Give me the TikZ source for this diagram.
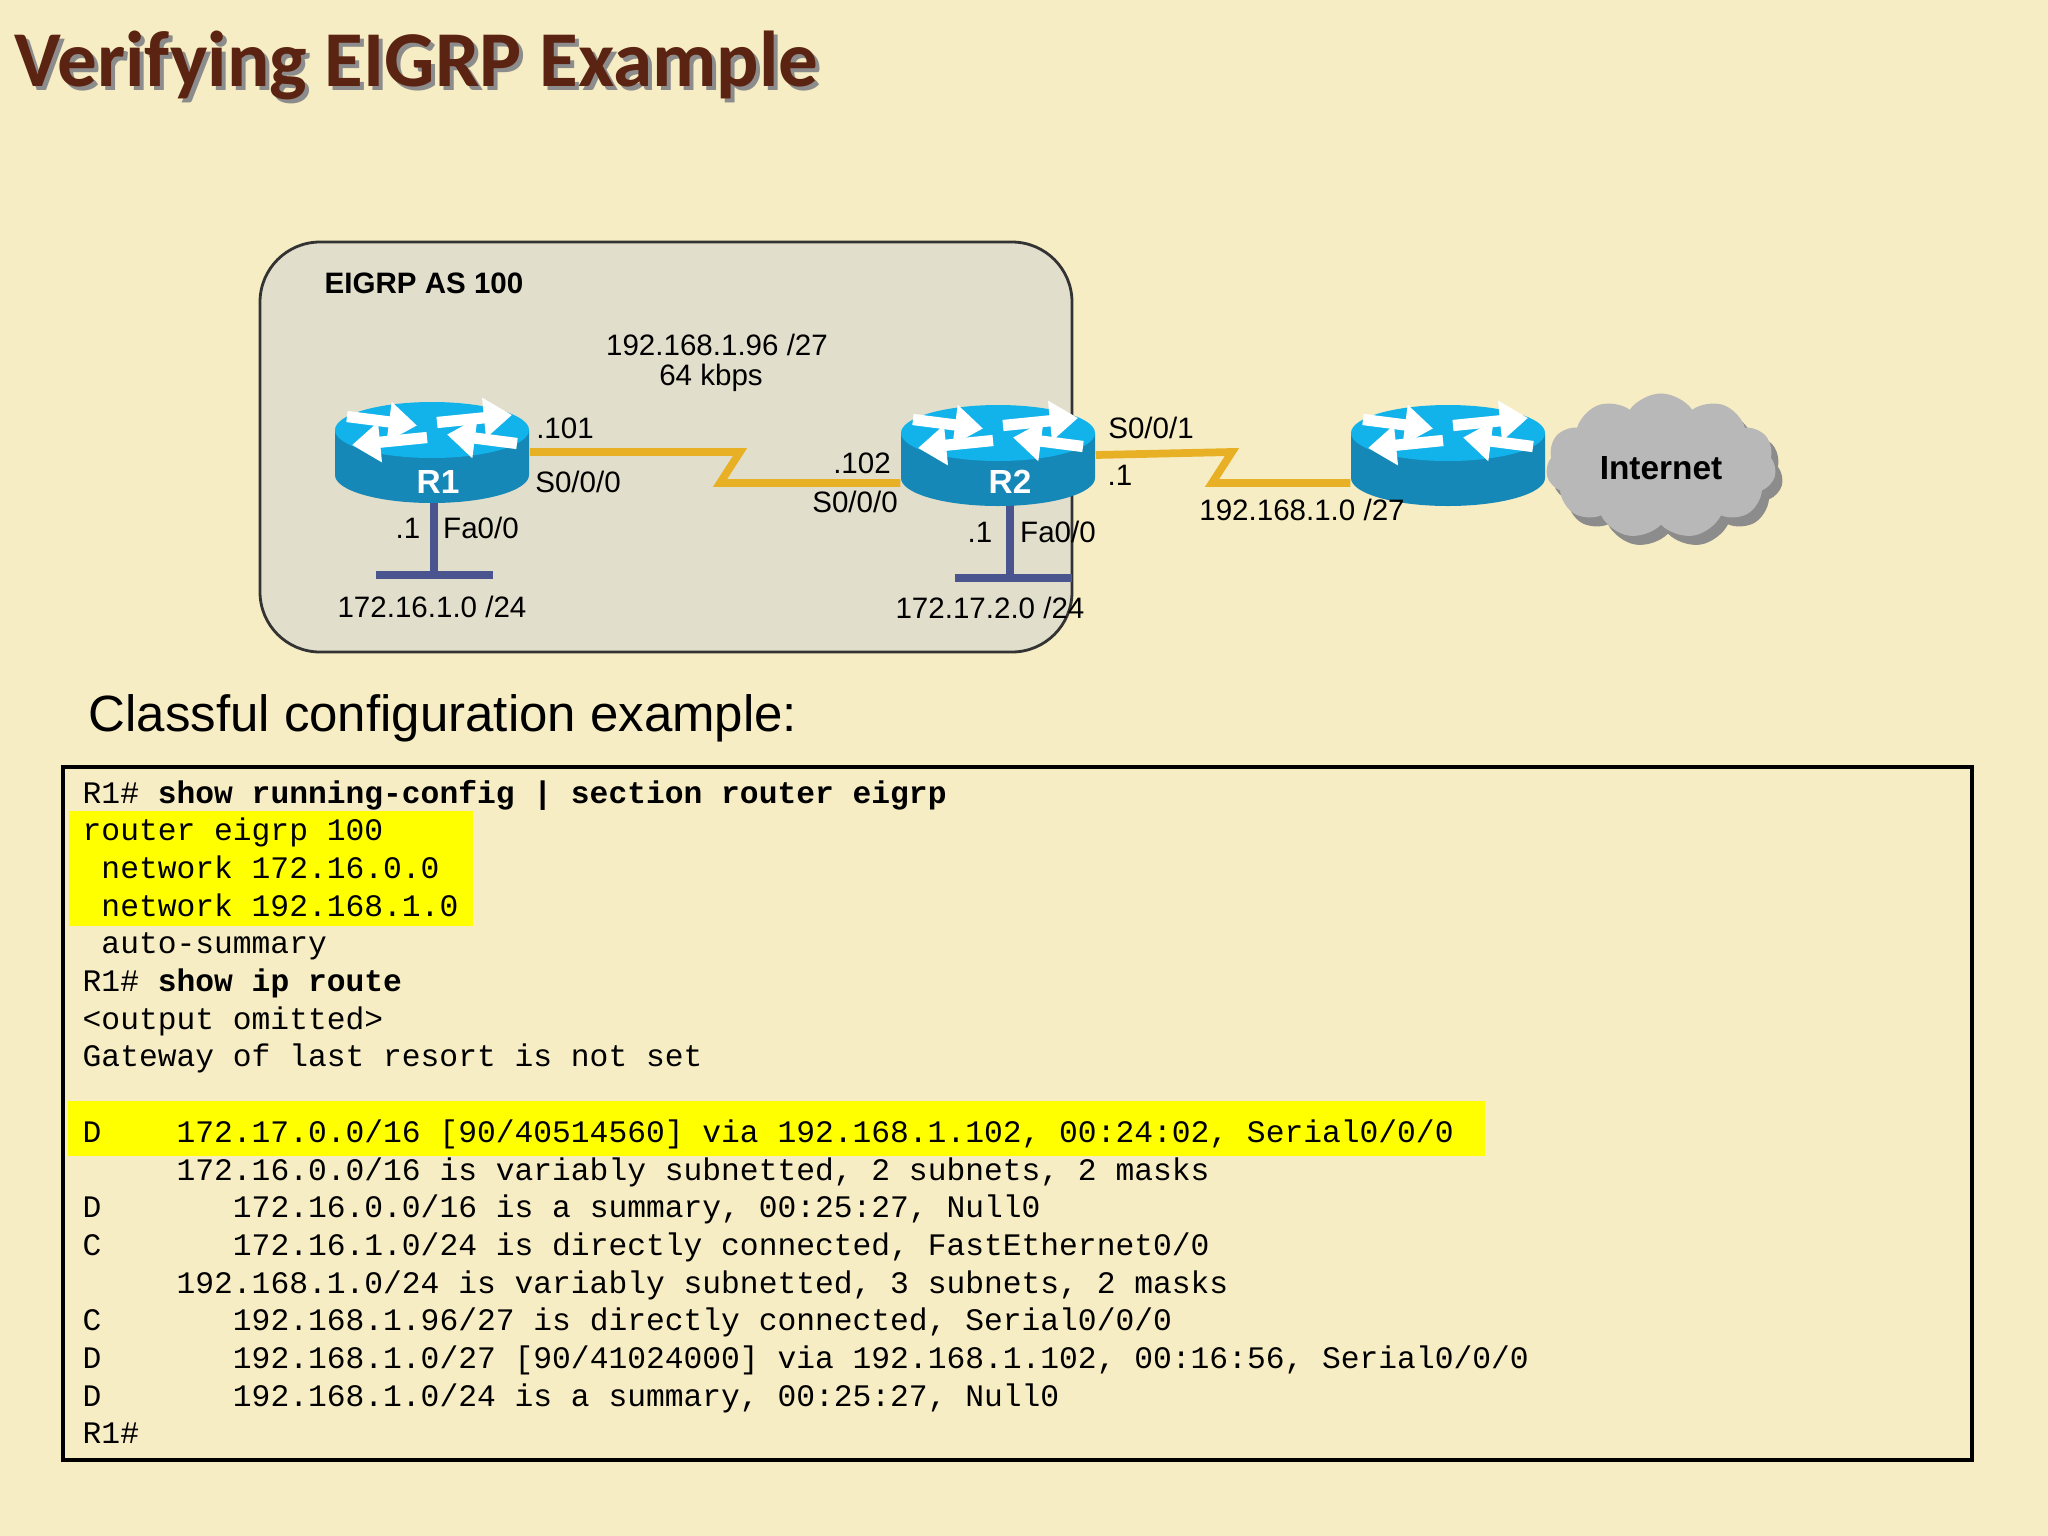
\documentclass[tikz,border=0pt]{standalone}
\usepackage{fontspec}
\setmainfont{Liberation Sans}
\setmonofont{Liberation Mono}
\newfontfamily\titlefont{Carlito}
\usetikzlibrary{shapes.symbols,arrows.meta,calc}
\definecolor{bgc}{HTML}{F7EDC4}
\definecolor{titlec}{HTML}{5B2412}
\definecolor{rtop}{HTML}{12B2EA}
\definecolor{rbody}{HTML}{1688B8}
\definecolor{serialc}{HTML}{E8B024}
\definecolor{ethc}{HTML}{4A5590}
\definecolor{hl}{HTML}{FFFF00}
\tikzset{
 lbl/.style={font=\fontsize{8.4}{10}\selectfont, inner sep=0pt},
 codeline/.style={anchor=base west, inner sep=0pt, font=\fontsize{8.9}{10}\ttfamily},
 serial/.style={serialc, line width=2.2pt},
 eth/.style={ethc, line width=2.2pt},
 rbox/.style={minimum width=1.94cm, minimum height=0.8cm, inner sep=0pt},
 router/.pic={
  \fill[rbody] (-97,0) -- (-97,45) arc[start angle=180,end angle=0,x radius=97,y radius=28] -- (97,0) -- cycle;
  \fill[rtop] (0,0) ellipse[x radius=97,y radius=28];
  \begin{scope}[yscale=0.3, white, line width=3.2pt]
   \draw[-{Triangle[length=8pt,width=11pt]}] (-85,-45) -- (-15,-15);
   \draw[-{Triangle[length=8pt,width=11pt]}] (5,-25) -- (80,-50);
   \draw[-{Triangle[length=8pt,width=11pt]}] (-5,25) -- (-80,50);
   \draw[-{Triangle[length=8pt,width=11pt]}] (85,45) -- (15,15);
  \end{scope}
 }
}
\begin{document}
\begin{tikzpicture}[x=0.01cm,y=-0.01cm]
\fill[bgc] (0,0) rectangle (2048,1536);
\useasboundingbox (0,0) rectangle (2048,1536);
% title
\node[anchor=base west, inner sep=0pt, text=black!45, font=\titlefont\bfseries\fontsize{22.5}{26}\selectfont] at (18,90) {Verifying EIGRP Example};
\node[anchor=base west, inner sep=0pt, text=titlec, font=\titlefont\bfseries\fontsize{22.5}{26}\selectfont] (title) at (14,86) {Verifying EIGRP Example};
% EIGRP area
\draw[fill=black!8!bgc!80!gray!60, draw=black!80, line width=0.8pt, rounded corners=0.6cm] (260,242) rectangle (1072,652);
\node[lbl, font=\fontsize{8.4}{10}\selectfont\bfseries] (as) at (424,283) {EIGRP AS 100};
% ethernet
\node[inner sep=0pt] (lan1) at (434,575) {};
\node[inner sep=0pt] (lan2) at (1010,578) {};
\draw[eth] (376,575) -- (493,575);
\draw[eth] (955,578) -- (1072,578);
\draw[eth] (434,480) -- (lan1);
\draw[eth] (1010,483) -- (lan2);
% routers
\pic at (432,430) {router};
\pic at (998,433) {router};
\pic at (1448,433) {router};
\node[rbox] (r1) at (432,452) {};
\node[rbox] (r2) at (998,455) {};
\node[rbox] (r3) at (1448,455) {};
\node[text=white, font=\fontsize{9.5}{11}\selectfont\bfseries] at (438,482) {R1};
\node[text=white, font=\fontsize{9.5}{11}\selectfont\bfseries] at (1010,482) {R2};
% cloud
\node[cloud, cloud puffs=11, cloud puff arc=110, aspect=1.6, minimum width=2.3cm, minimum height=1.45cm, fill=black!45] at (1668,475) {};
\node[cloud, cloud puffs=11, cloud puff arc=110, aspect=1.6, minimum width=2.3cm, minimum height=1.45cm, fill=black!28] (inet) at (1661,466) {};
\node[lbl, font=\fontsize{9.5}{11}\selectfont\bfseries] at (1661,468) {Internet};
% serial links
\draw[serial] (r1.east) -- (740,452) -- (720,483) -- ($(r2.west)+(0,28)$);
\draw[serial] (r2.east) -- (1232,452) -- (1212,483) -- ($(r3.west)+(0,28)$);
% labels
\node[lbl] at (717,345) {192.168.1.96 /27};
\node[lbl] at (711,378) {64 kbps};
\node[lbl] at (565,428) {.101};
\node[lbl] at (578,482) {S0/0/0};
\node[lbl] at (862,463) {.102};
\node[lbl] at (855,502) {S0/0/0};
\node[lbl] at (408,528) {.1};
\node[lbl] at (481,528) {Fa0/0};
\node[lbl] at (432,607) {172.16.1.0 /24};
\node[lbl] at (980,532) {.1};
\node[lbl] at (1058,532) {Fa0/0};
\node[lbl] at (990,608) {172.17.2.0 /24};
\node[lbl] at (1151,428) {S0/0/1};
\node[lbl] at (1120,475) {.1};
\node[lbl] at (1302,510) {192.168.1.0 /27};
% Classful
\node[anchor=west, inner sep=0pt, font=\fontsize{14.5}{18}\selectfont] (cls) at (88,718) {Classful configuration example:};
% code box
\draw[black, line width=1.1pt] (63,767) rectangle (1972,1460);
\fill[hl] (69,811) rectangle (473,926);
\fill[hl] (68,1101) rectangle (1485,1156);
\foreach \i/\t in {
 0/{R1\# \textbf{show running-config | section router eigrp}},
 1/{router eigrp 100},
 2/{~network 172.16.0.0},
 3/{~network 192.168.1.0},
 4/{~auto-summary},
 5/{R1\# \textbf{show ip route}},
 6/{<output omitted>},
 7/{Gateway of last resort is not set},
 9/{D~~~~172.17.0.0/16 [90/40514560] via 192.168.1.102, 00:24:02, Serial0/0/0},
 10/{~~~~~172.16.0.0/16 is variably subnetted, 2 subnets, 2 masks},
 11/{D~~~~~~~172.16.0.0/16 is a summary, 00:25:27, Null0},
 12/{C~~~~~~~172.16.1.0/24 is directly connected, FastEthernet0/0},
 13/{~~~~~192.168.1.0/24 is variably subnetted, 3 subnets, 2 masks},
 14/{C~~~~~~~192.168.1.96/27 is directly connected, Serial0/0/0},
 15/{D~~~~~~~192.168.1.0/27 [90/41024000] via 192.168.1.102, 00:16:56, Serial0/0/0},
 16/{D~~~~~~~192.168.1.0/24 is a summary, 00:25:27, Null0},
 17/{R1\#}}
 \node[codeline] (c\i) at (82,{803+37.7*\i}) {\t};
\end{tikzpicture}
\end{document}
